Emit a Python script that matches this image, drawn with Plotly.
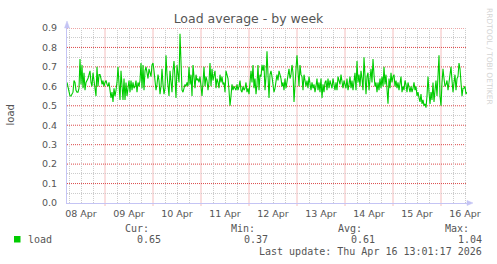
import pandas as pd
import plotly.graph_objects as go

# ---- data (30-minute averages) ----
load = [
 0.62,0.59,0.56,0.55,0.55,0.56,0.57,0.63,0.62,0.58,0.57,0.57,0.59,0.74,0.61,0.71,0.59,0.67,0.58,0.62,
 0.63,0.64,0.66,0.68,0.62,0.60,0.67,0.63,0.58,0.55,0.70,0.60,0.66,0.66,0.64,0.61,0.63,0.60,0.62,0.63,
 0.61,0.60,0.62,0.58,0.54,0.57,0.52,0.59,0.55,0.58,0.62,0.70,0.62,0.53,0.68,0.58,0.53,0.64,0.53,0.62,
 0.55,0.59,0.63,0.57,0.63,0.58,0.62,0.59,0.60,0.63,0.57,0.62,0.60,0.63,0.72,0.59,0.71,0.58,0.68,0.70,
 0.66,0.64,0.69,0.66,0.65,0.71,0.72,0.68,0.64,0.58,0.61,0.66,0.63,0.56,0.60,0.69,0.61,0.56,0.59,0.76,
 0.66,0.58,0.55,0.68,0.61,0.57,0.68,0.73,0.64,0.54,0.71,0.66,0.62,0.87,0.74,0.58,0.57,0.59,0.61,0.60,
 0.62,0.60,0.70,0.61,0.66,0.55,0.71,0.65,0.59,0.66,0.63,0.64,0.62,0.65,0.60,0.55,0.62,0.70,0.60,0.65,
 0.63,0.58,0.62,0.72,0.60,0.69,0.63,0.66,0.68,0.59,0.64,0.62,0.59,0.66,0.62,0.65,0.61,0.62,0.57,0.68,
 0.66,0.64,0.58,0.50,0.55,0.61,0.58,0.60,0.59,0.58,0.61,0.58,0.60,0.63,0.58,0.57,0.60,0.58,0.59,0.62,
 0.57,0.59,0.56,
 0.63,0.68,0.62,0.71,0.59,0.64,0.56,0.61,0.71,0.58,0.66,0.65,0.71,0.68,0.71,0.58,0.65,0.78,0.66,0.54,
 0.66,0.68,0.65,0.62,0.57,0.59,0.62,0.66,0.63,0.68,0.66,0.64,0.60,0.62,0.58,0.64,0.59,0.62,0.66,0.69,
 0.64,0.66,0.71,0.67,0.52,0.64,0.69,0.76,0.70,0.60,0.71,0.66,0.65,0.58,0.66,0.63,0.60,0.63,0.59,0.65,
 0.62,0.58,0.62,0.59,0.61,0.57,0.60,0.64,0.58,0.62,0.57,0.64,0.54,0.61,0.57,0.62,0.63,0.58,0.64,0.59,
 0.63,0.61,0.59,0.64,0.60,0.58,0.62,0.58,0.65,0.63,0.61,0.66,0.61,0.59,0.63,0.61,0.59,0.64,0.58,0.61,
 0.65,0.59,0.63,0.58,0.62,0.67,0.58,0.73,0.62,0.66,0.60,0.68,0.64,0.58,0.75,0.66,0.56,0.65,0.67,0.58,
 0.63,0.69,0.62,0.74,0.66,0.60,0.62,0.57,0.62,0.58,0.64,0.59,0.65,0.60,0.70,0.61,0.66,0.58,0.51,0.64,
 0.59,0.67,0.62,0.65,0.66,0.60,0.63,0.59,0.62,0.58,0.61,0.65,0.57,0.60,0.58,0.63,0.61,0.57,0.62,0.59,
 0.57,0.60,0.57,0.59,0.62,0.58,0.60,0.55,0.57,0.54,0.52,0.56,0.51,0.53,0.50,0.51,0.49,0.55,0.65,0.57,
 0.51,0.57,0.53,0.62,0.52,0.58,0.63,0.55,0.68,0.76,0.55,0.50,0.62,0.69,0.64,0.60,0.61,0.63,0.58,0.62,
 0.66,0.70,0.63,0.57,0.62,0.66,0.58,0.64,0.65,0.72,0.69,0.61,0.55,0.59,0.59,0.60,0.56,0.57,
]
start_time = "2026-04-08 05:00"
day_labels = ["08 Apr", "09 Apr", "10 Apr", "11 Apr", "12 Apr", "13 Apr", "14 Apr", "15 Apr", "16 Apr"]
label_noons = ["2026-04-%02d 12:00" % d for d in range(8, 17)]
day_starts = ["2026-04-%02d 00:00" % d for d in range(9, 17)]
six_hours = ["2026-04-%02d %02d:00" % (d, h) for d in range(8, 17) for h in (6, 12, 18)]
y_ticks = [0.0, 0.1, 0.2, 0.3, 0.4, 0.5, 0.6, 0.7, 0.8, 0.9]
y_minor = [0.05, 0.15, 0.25, 0.35, 0.45, 0.55, 0.65, 0.75, 0.85]
stat_names = ["Cur:", "Min:", "Avg:", "Max:"]
stat_values = ["0.65", "0.37", "0.61", "1.04"]
series_name = "load"
last_update = "Last update: Thu Apr 16 13:01:17 2026"

times = pd.date_range(start_time, periods=len(load), freq="30min")

# ---- layout geometry (pixels) ----
W, H = 497, 264
L, R, T, B = 67, 467, 28, 203
PW, PH = R - L, B - T
def px(x): return (x - L) / PW
def py(y): return (B - y) / PH

MAJ = "#ea7e7e"
MAJ_H = "#dc4a4a"
MIN = "#cccccc"
AX = "#c4c4f4"
TXT = "#555555"
MONO = "DejaVu Sans Mono"
DASH = "1px,1px"

fig = go.Figure()
fig.add_trace(go.Scatter(x=times, y=load, mode="lines", line=dict(color="#00cc00", width=1.1),
                         hoverinfo="skip", showlegend=False))
fig.add_trace(go.Scatter(x=[times[0], times[-1]], y=[load[0], load[-1]], mode="markers",
                         marker=dict(opacity=0, size=1), hoverinfo="skip", showlegend=False,
                         xaxis="x2"))

fig.update_layout(
    width=W, height=H, margin=dict(l=L, r=W - R, t=T, b=H - B, pad=0),
    paper_bgcolor="white", plot_bgcolor="white",
    font=dict(family="DejaVu Sans", size=9.5, color=TXT),
    title=dict(text="Load average - by week", x=0.5, xref="container", xanchor="center",
               y=1 - 19 / H, yref="container", yanchor="middle",
               font=dict(size=12.5, color=TXT, family="DejaVu Sans")),
    xaxis=dict(type="date", range=[times[0], times[-1]],
               tickmode="array", tickvals=six_hours,
               showticklabels=False, ticks="",
               showgrid=True, gridcolor=MIN, griddash=DASH, gridwidth=1,
               zeroline=False, showline=True, linecolor=AX, linewidth=1, automargin=False),
    xaxis2=dict(type="date", overlaying="x", matches="x", side="bottom", anchor="y",
                range=[times[0], times[-1]], tickmode="array",
                tickvals=label_noons, ticktext=day_labels, showgrid=False, zeroline=False,
                ticks="", ticklabelstandoff=3, showline=False,
                automargin=False, tickfont=dict(size=9.5, color=TXT)),
    yaxis=dict(range=[0, 0.9], tickmode="array", tickvals=y_ticks, tickformat=".1f",
               showgrid=True, gridcolor="rgba(0,0,0,0)", gridwidth=1,
               minor=dict(tickmode="array", tickvals=y_minor, showgrid=True,
                          gridcolor=MIN, griddash=DASH, gridwidth=1),
               zeroline=False, showline=True, linecolor=AX, linewidth=1, ticks="",
               ticklabelstandoff=7, automargin=False, tickfont=dict(size=9.5, color=TXT)),
)

# red major grid: midnights (vertical) and every 0.1 (horizontal), placed through the axis scales
for d in day_starts:
    fig.add_shape(type="line", xref="x", yref="paper", x0=d, x1=d, y0=py(205.5), y1=1,
                  line=dict(color=MAJ, width=1, dash=DASH), layer="below")
for v in y_ticks[1:]:
    fig.add_shape(type="line", xref="paper", yref="y", x0=0, x1=1, y0=v, y1=v,
                  line=dict(color=MAJ_H, width=1, dash=DASH), layer="below")

# axis arrows
fig.add_shape(type="path", xref="paper", yref="paper",
              path=f"M {px(467)} {py(200.5)} L {px(473)} {py(203)} L {px(467)} {py(205.5)} Z",
              fillcolor=AX, line=dict(color=AX, width=0.5))
fig.add_shape(type="path", xref="paper", yref="paper",
              path=f"M {px(64.5)} {py(28)} L {px(67)} {py(21)} L {px(69.5)} {py(28)} Z",
              fillcolor=AX, line=dict(color=AX, width=0.5))

fig.add_annotation(text="load", xref="paper", yref="paper", x=px(10), y=py(115.5),
                   textangle=-90, showarrow=False, xanchor="center", yanchor="middle",
                   font=dict(size=10, color=TXT, family="DejaVu Sans"))
fig.add_annotation(text="RRDTOOL / TOBI OETIKER", xref="paper", yref="paper", x=px(490), y=py(56),
                   textangle=90, showarrow=False, xanchor="center", yanchor="middle",
                   font=dict(size=7.5, color="#d4d4d4", family="DejaVu Sans"))

fig.add_shape(type="rect", xref="paper", yref="paper", x0=px(14), x1=px(20.5), y0=py(242.5), y1=py(236),
              fillcolor="#00cc00", line=dict(width=0))
fig.add_annotation(text=series_name, xref="paper", yref="paper", x=px(26), y=py(239.5),
                   showarrow=False, xanchor="left", yanchor="middle",
                   font=dict(size=10, color=TXT, family=MONO))
name_right = [150, 256, 363, 470]
val_right = [162, 269, 376, 483]
for n, v, nr, vr in zip(stat_names, stat_values, name_right, val_right):
    fig.add_annotation(text=n, xref="paper", yref="paper", x=px(nr + 1), y=py(228),
                       showarrow=False, xanchor="right", yanchor="middle",
                       font=dict(size=10, color=TXT, family=MONO))
    fig.add_annotation(text=v, xref="paper", yref="paper", x=px(vr + 1), y=py(239.5),
                       showarrow=False, xanchor="right", yanchor="middle",
                       font=dict(size=10, color=TXT, family=MONO))
fig.add_annotation(text=last_update, xref="paper", yref="paper", x=px(484), y=py(251.5),
                   showarrow=False, xanchor="right", yanchor="middle",
                   font=dict(size=10, color=TXT, family=MONO))

fig.write_html("out.html")
